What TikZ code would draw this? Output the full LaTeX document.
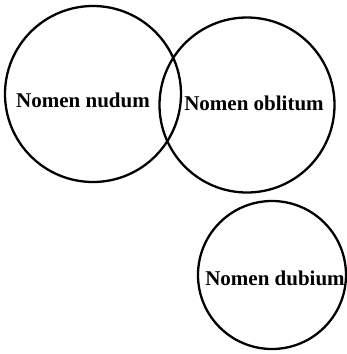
\documentclass[tikz,border=0pt]{standalone}
\usepackage{fontspec}
\setmainfont{Liberation Serif}
\usetikzlibrary{positioning}
\tikzset{
    ring/.style={draw, circle, line width=2.3pt, inner sep=0pt},
    nomen/.style={font=\fontsize{21}{24}\selectfont\bfseries, inner sep=0pt}
}
\begin{document}
\begin{tikzpicture}[x=1pt, y=-1pt]
    \useasboundingbox (0, 0) rectangle (347, 354);

    % Kreise
    \node[ring, minimum size=176pt] (nudum) at (93, 94) {};
    \node[ring, minimum size=175pt] (oblitum) at (247, 105) {};
    \node[ring, minimum size=148pt] (dubium) at (272, 275) {};

    % Beschriftungen
    \node[nomen] (nudumtext) at ([shift={(-10pt, -6pt)}]nudum.center) {Nomen nudum};
    \node[nomen] (oblitumtext) at ([shift={(7pt, 2pt)}]oblitum.center) {Nomen oblitum};
    \node[nomen] (dubiumtext) at ([shift={(3pt, -3pt)}]dubium.center) {Nomen dubium};
\end{tikzpicture}
\end{document}
